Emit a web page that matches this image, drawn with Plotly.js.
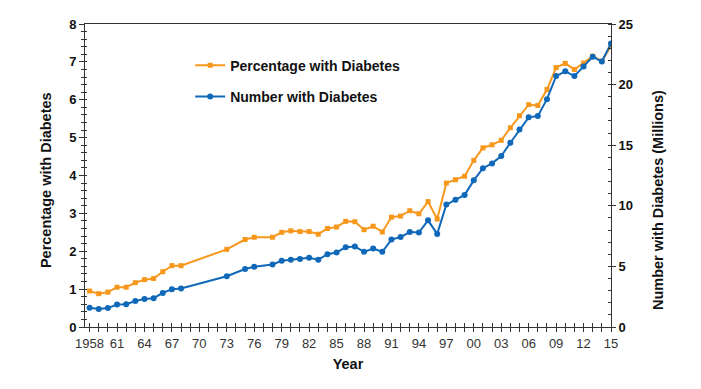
<!DOCTYPE html>
<html><head><meta charset="utf-8">
<script src="https://cdn.plot.ly/plotly-3.0.1.min.js"></script>
<style>html,body{margin:0;padding:0;background:#fff}#chart{width:701px;height:389px}</style>
</head><body><div id="chart"></div>
<script>
const years = [1958,1959,1960,1961,1962,1963,1964,1965,1966,1967,1968,1973,1975,1976,1978,1979,1980,1981,1982,1983,1984,1985,1986,1987,1988,1989,1990,1991,1992,1993,1994,1995,1996,1997,1998,1999,2000,2001,2002,2003,2004,2005,2006,2007,2008,2009,2010,2011,2012,2013,2014,2015];
const percentWithDiabetes = [0.95,0.88,0.92,1.05,1.05,1.17,1.25,1.28,1.46,1.62,1.62,2.05,2.31,2.37,2.37,2.50,2.54,2.52,2.52,2.45,2.60,2.64,2.79,2.78,2.57,2.66,2.51,2.90,2.93,3.07,2.99,3.31,2.85,3.80,3.89,3.98,4.40,4.73,4.81,4.93,5.26,5.58,5.87,5.85,6.27,6.85,6.96,6.80,6.97,7.15,7.02,7.42];
const numberWithDiabetes = [1.58,1.48,1.56,1.85,1.88,2.14,2.32,2.38,2.81,3.11,3.17,4.19,4.78,4.97,5.16,5.46,5.54,5.62,5.71,5.55,6.01,6.15,6.59,6.65,6.20,6.47,6.21,7.21,7.42,7.83,7.79,8.80,7.68,10.1,10.5,10.9,12.1,13.1,13.5,14.1,15.2,16.3,17.3,17.4,18.8,20.7,21.1,20.7,21.5,22.3,21.9,23.4];
const xTickVals = [1958,1961,1964,1967,1970,1973,1976,1979,1982,1985,1988,1991,1994,1997,2000,2003,2006,2009,2012,2015];
const xTickText = ['1958','61','64','67','70','73','76','79','82','85','88','91','94','97','00','03','06','09','12','15'];

const orange = '#F7981D', blue = '#1068B8', axisCol = '#333';
const fam = 'Liberation Sans, Arial, sans-serif';
const boldFont = {family:fam, size:14, color:'#111', weight:700};
const titleFont = {family:fam, size:14.5, color:'#111', weight:700};

const traces = [
  {x:years, y:percentWithDiabetes, name:'Percentage with Diabetes', type:'scatter', mode:'lines+markers',
   line:{color:orange,width:2}, marker:{symbol:'square',size:5,color:orange}, yaxis:'y', legendgroup:'a'},
  {x:years, y:numberWithDiabetes, name:'Number with Diabetes', type:'scatter', mode:'lines+markers',
   line:{color:blue,width:2}, marker:{symbol:'circle',size:6,color:blue}, yaxis:'y2', legendgroup:'b'},
  {x:[], y:[], xaxis:'x2', yaxis:'y3', type:'scatter', mode:'markers', showlegend:false, hoverinfo:'skip'}
];

const layout = {
  width:701, height:389,
  margin:{l:85, r:90, t:24, b:62},
  paper_bgcolor:'#fff', plot_bgcolor:'#fff',
  showlegend:true,
  legend:{x:0.2, y:0.915, xanchor:'left', yanchor:'top', bgcolor:'rgba(0,0,0,0)',
    font:boldFont, itemwidth:30, tracegroupgap:10, traceorder:'grouped'},
  xaxis:{range:[1957.5,2015], tickmode:'array', tickvals:xTickVals, ticktext:xTickText,
    ticks:'outside', ticklen:4, tickcolor:axisCol, showgrid:false, zeroline:false,
    showline:true, linecolor:axisCol, linewidth:1, mirror:true,
    minor:{dtick:1, tick0:1958, ticks:'outside', ticklen:4, tickcolor:axisCol},
    tickfont:{family:fam, size:13, color:'#333'},
    title:{text:'Year', font:titleFont, standoff:9}},
  xaxis2:{range:[1957.5,2015], overlaying:'x', anchor:'y3', side:'bottom', tickmode:'linear', tick0:1958, dtick:1,
    ticks:'inside', ticklen:4, tickcolor:axisCol, showticklabels:false, showgrid:false, zeroline:false, showline:false},
  yaxis:{range:[0,8], dtick:1, ticks:'outside', ticklen:5, tickcolor:axisCol,
    showgrid:false, zeroline:false, showline:true, linecolor:axisCol, linewidth:1,
    minor:{dtick:0.2, ticks:'outside', ticklen:3, tickcolor:axisCol},
    tickfont:{family:fam, size:13, color:'#111', weight:700}},
  yaxis3:{range:[0,8], overlaying:'y', anchor:'x2', side:'left', tickmode:'linear', tick0:0, dtick:0.2,
    ticks:'inside', ticklen:2, tickcolor:axisCol, showticklabels:false, showgrid:false, zeroline:false, showline:false},
  yaxis2:{range:[0,25], dtick:5, overlaying:'y', side:'right', ticks:'outside', ticklen:4, tickcolor:axisCol,
    showgrid:false, zeroline:false, showline:true, linecolor:axisCol, linewidth:1,
    minor:{dtick:1, ticks:'inside', ticklen:3, tickcolor:axisCol},
    tickfont:{family:fam, size:13, color:'#111', weight:700}},
  annotations:[
    {text:'Percentage with Diabetes', xref:'paper', yref:'paper', x:-0.0741, y:0.485,
     xanchor:'center', yanchor:'middle', textangle:-90, showarrow:false, font:titleFont},
    {text:'Number with Diabetes (Millions)', xref:'paper', yref:'paper', x:1.0894, y:0.419,
     xanchor:'center', yanchor:'middle', textangle:-90, showarrow:false, font:titleFont}
  ]
};
Plotly.newPlot('chart', traces, layout, {displayModeBar:false, staticPlot:true});
</script></body></html>
